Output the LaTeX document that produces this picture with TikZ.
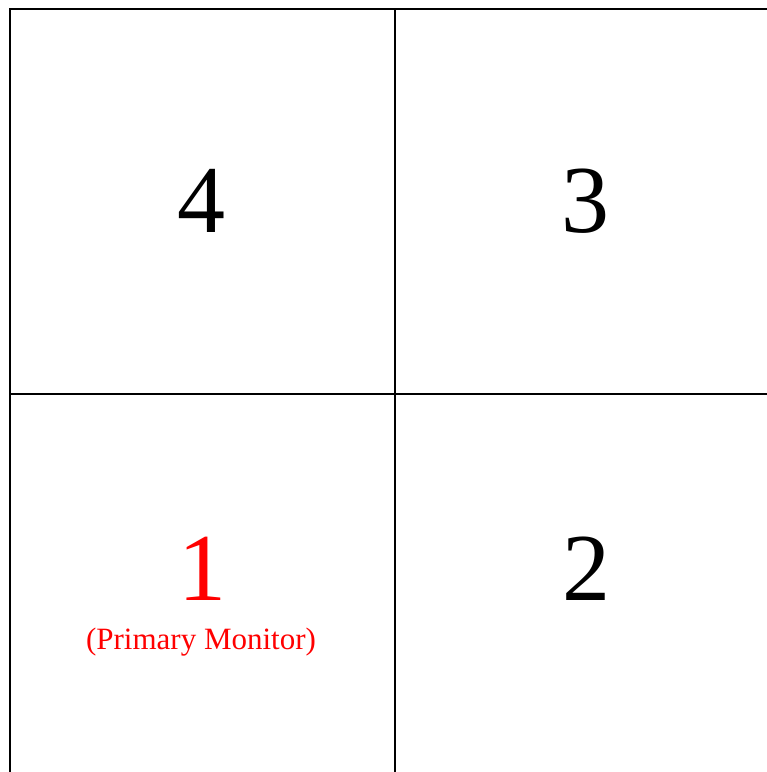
\documentclass[tikz,border=0pt]{standalone}
\usepackage{fontspec}
\setmainfont{Liberation Serif}
\tikzset{
  gridline/.style={draw=black,line width=1.3pt},
  bignum/.style={inner sep=0pt,anchor=base,font=\fontsize{96}{96}\selectfont},
  caption/.style={inner sep=0pt,anchor=base,text=red,font=\fontsize{31}{31}\selectfont}
}
\begin{document}
\begin{tikzpicture}[x=1pt,y=-1pt]
\useasboundingbox (0,0) rectangle (767,772);
\draw[gridline] (10,772) -- (10,9) -- (767,9);
\draw[gridline] (395,9) -- (395,772);
\draw[gridline] (10,394) -- (767,394);
\node[bignum] (n4) at (201,232) {4};
\node[bignum] (n3) at (585,232) {3};
\node[bignum,text=red] (n1) at (202,600) {1};
\node[bignum] (n2) at (586,600) {2};
\node[caption] (cap) at (201,649) {(Primary Monitor)};
\end{tikzpicture}
\end{document}
